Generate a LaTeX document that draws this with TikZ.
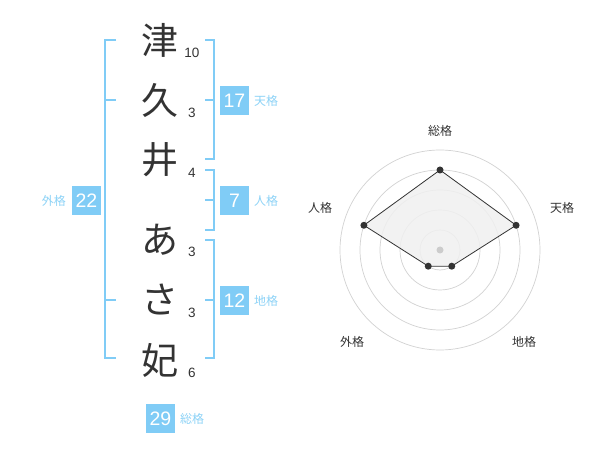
\documentclass[tikz,border=0pt]{standalone}
\usepackage{fontspec}
\setmainfont{Liberation Sans}
\newfontfamily\jp{Noto Sans CJK JP}
\definecolor{blu}{HTML}{80CCF6}
\definecolor{lbl}{HTML}{8DD3F7}
\definecolor{ink}{HTML}{333333}
\definecolor{ring}{HTML}{D2D2D2}
\definecolor{cdotc}{HTML}{CCCCCC}
\definecolor{fillg}{HTML}{F0F0F0}
\begin{document}
\begin{tikzpicture}[x=1pt,y=-1pt,
 kanji/.style={font=\jp\fontsize{37}{37}\selectfont, text=ink, inner sep=0},
 strokes/.style={font=\fontsize{13.5}{13.5}\selectfont, text=ink, inner sep=0},
 numbox/.style={fill=blu, text=white, minimum width=29, minimum height=29, inner sep=0, font=\fontsize{19.5}{19.5}\selectfont},
 lab/.style={font=\jp\fontsize{12}{12}\selectfont, text=lbl, inner sep=0},
 bracket/.style={draw=blu, line width=2},
 axlab/.style={font=\jp\fontsize{12}{12}\selectfont, text=ink, inner sep=0},
 dot/.style={circle, fill=ink, inner sep=0, minimum size=7},
 ringline/.style={draw=ring, line width=0.7}
]
\useasboundingbox (0,0) rectangle (600,470);
\fill[white] (0,0) rectangle (600,470);

% brackets
\draw[bracket] (116,40) -- (105,40) -- (105,358) -- (116,358);
\draw[bracket] (105,100) -- (116,100);
\draw[bracket] (105,300) -- (116,300);
\draw[bracket] (205,40) -- (214,40) -- (214,159) -- (205,159);
\draw[bracket] (205,100) -- (214,100);
\draw[bracket] (205,170) -- (214,170) -- (214,230) -- (205,230);
\draw[bracket] (205,200) -- (214,200);
\draw[bracket] (205,240) -- (214,240) -- (214,358) -- (205,358);
\draw[bracket] (205,300) -- (214,300);

% characters
\node[kanji] (c1) at (160,40) {津};
\node[kanji] (c2) at (160,100) {久};
\node[kanji] (c3) at (160,160) {井};
\node[kanji] (c4) at (160,240) {あ};
\node[kanji] (c5) at (160,300) {さ};
\node[kanji] (c6) at (160,360) {妃};

\node[strokes] (s1) at (192,53) {10};
\node[strokes] (s2) at (192,113) {3};
\node[strokes] (s3) at (192,173) {4};
\node[strokes] (s4) at (192,252) {3};
\node[strokes] (s5) at (192,313) {3};
\node[strokes] (s6) at (192,373) {6};

% boxes
\node[numbox] (ten) at (234.5,100.5) {17};
\node[lab, anchor=west] (tenl) at (254,101) {天格};
\node[numbox] (jin) at (234.5,200.5) {7};
\node[lab, anchor=west] (jinl) at (254,201) {人格};
\node[numbox] (chi) at (234.5,300.5) {12};
\node[lab, anchor=west] (chil) at (254,301) {地格};
\node[numbox] (gai) at (86.5,200.5) {22};
\node[lab, anchor=east] (gail) at (66,201) {外格};
\node[numbox] (sou) at (160.5,418.5) {29};
\node[lab, anchor=west] (soul) at (180,419) {総格};

% radar
\coordinate (ctr) at (440,250);
\foreach \r in {20,40,60,80,100} \draw[ringline] (ctr) circle[radius=\r];
\coordinate (pS) at (440,170);
\coordinate (pT) at (516.08,225.28);
\coordinate (pC) at (451.76,266.18);
\coordinate (pG) at (428.24,266.18);
\coordinate (pJ) at (363.92,225.28);
\filldraw[fill=fillg, fill opacity=0.85, draw=ink, line width=0.8] (pS) -- (pT) -- (pC) -- (pG) -- (pJ) -- cycle;
\node[circle, fill=cdotc, inner sep=0, minimum size=7] (cdot) at (ctr) {};
\foreach \p in {pS,pT,pC,pG,pJ} \node[dot] at (\p) {};

\node[axlab] (aS) at (440,131) {総格};
\node[axlab] (aT) at (562,208) {天格};
\node[axlab] (aJ) at (320,208) {人格};
\node[axlab] (aG) at (352,342) {外格};
\node[axlab] (aC) at (524,342) {地格};
\end{tikzpicture}
\end{document}
